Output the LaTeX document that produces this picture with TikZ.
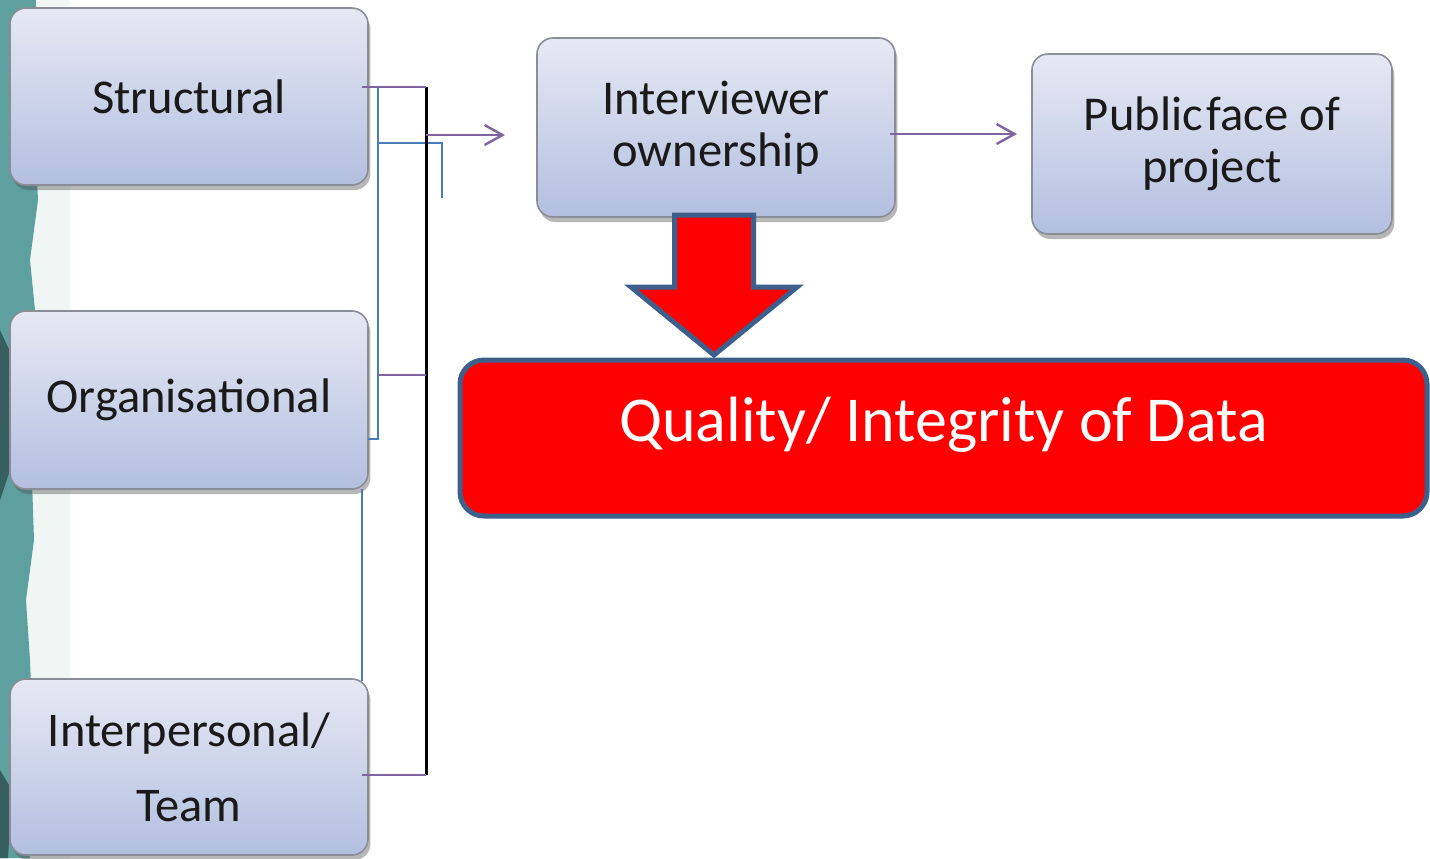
\documentclass[tikz,border=0pt]{standalone}
\usepackage{fontspec}
\setmainfont{Carlito}
\usetikzlibrary{shadows,arrows.meta}
\definecolor{boxtop}{HTML}{E6E9F4}
\definecolor{boxbot}{HTML}{B3BFE0}
\definecolor{boxline}{HTML}{8A8D96}
\definecolor{purp}{HTML}{8064A2}
\definecolor{blu}{HTML}{4A7EBB}
\definecolor{navy}{HTML}{3C5F8C}
\definecolor{teal1}{HTML}{5E9FA0}
\definecolor{teal2}{HTML}{F0F6F3}
\definecolor{txt}{HTML}{1A1A1A}
\tikzset{
  gbox/.style={draw=boxline, line width=0.8pt, rounded corners=8pt,
    top color=boxtop, bottom color=boxbot, inner sep=0pt, outer sep=0pt,
    align=center, text=txt,
    drop shadow={shadow xshift=1.2pt, shadow yshift=-2.5pt, opacity=0.4, fill=black!70}},
  bigfont/.style={font=\fontsize{24.3}{26}\selectfont},
  purpline/.style={draw=purp, line width=1pt},
  purparrow/.style={draw=purp, line width=1pt, -{Straight Barb[length=9pt,width=10pt,line width=1.2pt]}},
  blueline/.style={draw=blu, line width=1pt},
  blackline/.style={draw=black, line width=1.5pt},
  redbox/.style={draw=navy, line width=2.5pt, fill=red, rounded corners=12pt,
    inner sep=0pt, outer sep=0pt, text=white, font=\fontsize{32}{34}\selectfont},
  blockarrow/.style={draw=navy, line width=2.5pt, fill=red, line join=miter}
}
\begin{document}
\begin{tikzpicture}[x=0.5pt,y=-0.5pt]
\useasboundingbox (0,0) rectangle (1430,858);
% background texture at the left edge
\fill[teal2] (0,0) -- (70,0) -- (70,858) -- (0,858) -- cycle;
\fill[teal1] (0,0) -- (36,0) -- (34,120) -- (38,200) -- (30,260) -- (36,320) -- (32,480)
  -- (34,540) -- (26,600) -- (30,660) -- (34,760) -- (30,858) -- (0,858) -- cycle;
\fill[teal1!60!black] (0,330) -- (14,360) -- (10,470) -- (0,500) -- cycle;
\fill[teal1!60!black] (0,770) -- (12,790) -- (8,858) -- (0,858) -- cycle;

% boxes
\node[gbox, bigfont, minimum width=179pt, minimum height=88.5pt] (struct) at (189,96.5) {Structural};
\node[gbox, bigfont, minimum width=179pt, minimum height=89pt] (org) at (189,400) {Organisational};
\node[gbox, font=\fontsize{24.2}{37.5}\selectfont, minimum width=179pt, minimum height=88pt] (inter) at (189,767) {Interpersonal/\\Team};
\node[gbox, bigfont, minimum width=179pt, minimum height=89.5pt] (intv) at (716,127.5) {Interviewer\\ownership};
\node[gbox, bigfont, minimum width=180pt, minimum height=90pt] (pub) at (1212,144) {Public\hspace{0.08em}face of\\project};

% quality box
\node[redbox, minimum width=483.5pt, minimum height=78pt, text height=21pt, text depth=18pt] (qual) at (943.5,438) {Quality/ Integrity of Data};

% block arrow
\draw[blockarrow] (674.5,215) -- (753.5,215) -- (753.5,287) -- (797,287) -- (714,355)
  -- (631,287) -- (674.5,287) -- cycle;

% connector junctions
\coordinate (s1) at (362,87);
\coordinate (b1) at (426,87);
\coordinate (b2) at (426,775);
\coordinate (i1) at (362,775);
\coordinate (o1) at (378,375);
\coordinate (b3) at (426,375);
\coordinate (a1) at (426,135);
\coordinate (a2) at (505,135);
\coordinate (v1) at (378,87);
\coordinate (v2) at (378,439);
\coordinate (v3) at (368,439);
\coordinate (h1) at (378,143);
\coordinate (h2) at (442,143);
\coordinate (h3) at (442,198);
\coordinate (t1) at (362,489);
\coordinate (t2) at (362,681);
\coordinate (p1) at (890,134);
\coordinate (p2) at (1017,134);

\draw[blueline] (v1) -- (v2) -- (v3);
\draw[blueline] (h1) -- (h2) -- (h3);
\draw[blueline] (t1) -- (t2);
\draw[blackline] (b1) -- (b2);
\draw[purpline] (s1) -- (b1);
\draw[purpline] (i1) -- (b2);
\draw[purpline] (o1) -- (b3);
\draw[purparrow] (a1) -- (a2);
\draw[purparrow] (p1) -- (p2);
\end{tikzpicture}
\end{document}
